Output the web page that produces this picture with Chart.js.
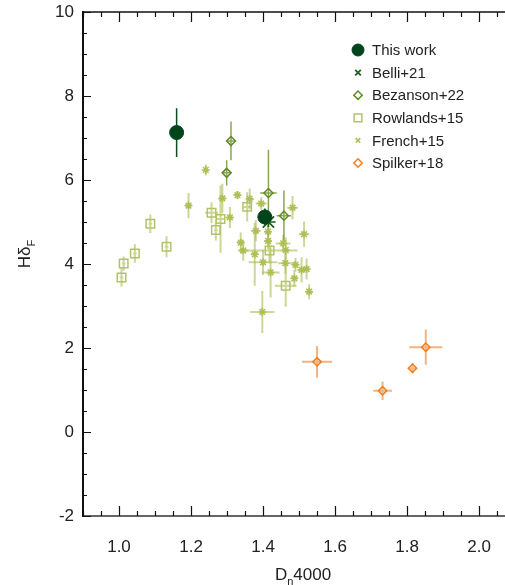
<!DOCTYPE html>
<html>
<head>
<meta charset="utf-8">
<script src="https://cdn.jsdelivr.net/npm/chart.js@4/dist/chart.umd.min.js"></script>
<style>
html, body { margin: 0; padding: 0; background: #fff; }
canvas { display: block; }
</style>
</head>
<body>
<canvas id="hd_chart" width="505" height="585"></canvas>
<script>
// tick labels
const xTickValues = [1.0, 1.2, 1.4, 1.6, 1.8, 2.0];
const yTickValues = [-2, 0, 2, 4, 6, 8, 10];

// This work
const thisWorkX    = [1.160, 1.405];
const thisWorkY    = [7.13, 5.12];
const thisWorkErrX = [0.004, 0.008];
const thisWorkErrY = [0.58, 0.20];

// Belli+21
const belliX    = [1.415];
const belliY    = [5.00];
const belliErrX = [0.02];
const belliErrY = [0.12];

// Bezanson+22
const bezansonX    = [1.311, 1.299, 1.415, 1.458];
const bezansonY    = [6.93, 6.17, 5.69, 5.15];
const bezansonErrX = [0.010, 0.010, 0.023, 0.020];
const bezansonErrY = [0.46, 0.30, 1.03, 0.60];

// Rowlands+15
const rowlandsX    = [1.007, 1.013, 1.044, 1.087, 1.132, 1.257, 1.269, 1.282, 1.356, 1.418, 1.463];
const rowlandsY    = [3.68, 4.01, 4.25, 4.96, 4.41, 5.22, 4.81, 5.07, 5.36, 4.32, 3.48];
const rowlandsErrX = [0.005, 0.005, 0.005, 0.005, 0.005, 0.018, 0.005, 0.010, 0.010, 0.078, 0.030];
const rowlandsErrY = [0.22, 0.17, 0.22, 0.22, 0.25, 0.25, 0.25, 0.80, 0.35, 0.30, 0.50];

// French+15
const frenchX    = [1.241, 1.193, 1.287, 1.329, 1.363, 1.395, 1.308, 1.482, 1.380, 1.414, 1.514, 1.338, 1.345,
                    1.414, 1.456, 1.463, 1.377, 1.398, 1.400, 1.421, 1.462, 1.490, 1.507, 1.521, 1.487, 1.528];
const frenchY    = [6.24, 5.39, 5.56, 5.64, 5.55, 5.44, 5.11, 5.34, 4.79, 4.77, 4.71, 4.51, 4.32,
                    4.55, 4.49, 4.33, 4.23, 2.86, 4.04, 3.80, 4.02, 3.98, 3.86, 3.88, 3.66, 3.34];
const frenchErrX = [0.005, 0.010, 0.010, 0.010, 0.010, 0.015, 0.010, 0.015, 0.014, 0.010, 0.015, 0.010, 0.015,
                    0.010, 0.020, 0.010, 0.010, 0.034, 0.040, 0.025, 0.020, 0.010, 0.010, 0.010, 0.010, 0.010];
const frenchErrY = [0.13, 0.30, 0.35, 0.10, 0.25, 0.15, 0.25, 0.28, 0.25, 0.20, 0.30, 0.24, 0.24,
                    0.20, 0.20, 0.30, 0.75, 0.50, 0.30, 0.60, 0.25, 0.16, 0.30, 0.25, 0.20, 0.18];

// Spilker+18
const spilkerX    = [1.550, 1.732, 1.815, 1.852];
const spilkerY    = [1.67, 0.98, 1.52, 2.02];
const spilkerErrX = [0.042, 0.026, 0.012, 0.046];
const spilkerErrY = [0.38, 0.22, 0.12, 0.42];

function toPoints(xs, ys) {
    return xs.map((x, i) => ({ x: x, y: ys[i] }));
}

const FONT = '"Liberation Sans", Arial, Helvetica, sans-serif';

// error bars under the markers
const errorBars = {
    id: 'errorBars',
    beforeDatasetsDraw(chart) {
        const ctx = chart.ctx, xs = chart.scales.x, ys = chart.scales.y;
        ctx.save();
        for (let d = chart.data.datasets.length - 1; d >= 0; d--) {
            const ds = chart.data.datasets[d];
            if (!ds.errX) continue;
            ctx.strokeStyle = ds.errColor;
            ctx.lineWidth = ds.errWidth;
            ds.data.forEach((p, i) => {
                const px = xs.getPixelForValue(p.x), py = ys.getPixelForValue(p.y);
                ctx.beginPath();
                ctx.moveTo(xs.getPixelForValue(p.x - ds.errX[i]), py);
                ctx.lineTo(xs.getPixelForValue(p.x + ds.errX[i]), py);
                ctx.moveTo(px, ys.getPixelForValue(p.y - ds.errY[i]));
                ctx.lineTo(px, ys.getPixelForValue(p.y + ds.errY[i]));
                ctx.stroke();
            });
        }
        ctx.restore();
    }
};

// inward ticks + top frame line
const frameTicks = {
    id: 'frameTicks',
    afterDraw(chart) {
        const ctx = chart.ctx, a = chart.chartArea, xs = chart.scales.x, ys = chart.scales.y;
        ctx.save();
        ctx.strokeStyle = '#111';
        ctx.lineWidth = 1.5;
        ctx.beginPath();
        ctx.moveTo(a.left, a.top);
        ctx.lineTo(a.right, a.top);
        ctx.stroke();

        ctx.lineWidth = 1.2;
        ctx.beginPath();
        for (let v = 0.9; v <= xs.max + 1e-9; v += 0.05) {
            const major = xTickValues.some(t => Math.abs(t - v) < 1e-6);
            const len = major ? 10 : 5;
            const px = Math.round(xs.getPixelForValue(v)) + 0.5;
            ctx.moveTo(px, a.bottom); ctx.lineTo(px, a.bottom - len);
            ctx.moveTo(px, a.top); ctx.lineTo(px, a.top + len);
        }
        for (let v = ys.min; v <= ys.max + 1e-9; v += 0.5) {
            const major = yTickValues.some(t => Math.abs(t - v) < 1e-6);
            const len = major ? 8 : 4;
            const py = Math.round(ys.getPixelForValue(v)) + 0.5;
            ctx.moveTo(a.left, py); ctx.lineTo(a.left + len, py);
        }
        ctx.stroke();
        ctx.restore();
    }
};

// legend inside the plot
const insideLegend = {
    id: 'insideLegend',
    afterDraw(chart) {
        const ctx = chart.ctx;
        ctx.save();
        chart.data.datasets.forEach((ds, i) => {
            const y = 50 + i * 22.6;
            ctx.fillStyle = ds.backgroundColor;
            ctx.strokeStyle = ds.borderColor;
            ctx.lineWidth = ds.borderWidth;
            Chart.helpers.drawPoint(ctx, {
                pointStyle: ds.legendStyle || ds.pointStyle,
                radius: ds.legendRadius,
                borderWidth: ds.borderWidth,
                rotation: 0
            }, 358, y);
            ctx.fillStyle = '#222';
            ctx.font = '15px ' + FONT;
            ctx.textAlign = 'left';
            ctx.textBaseline = 'middle';
            ctx.fillText(ds.label, 372, y + 1);
        });
        ctx.restore();
    }
};

// axis titles with subscripts
const axisTitles = {
    id: 'axisTitles',
    afterDraw(chart) {
        const ctx = chart.ctx;
        ctx.save();
        ctx.fillStyle = '#222';
        ctx.textBaseline = 'alphabetic';
        ctx.textAlign = 'left';

        // D_n4000
        const big = '17px ' + FONT, small = '11px ' + FONT;
        ctx.font = big;
        const wD = ctx.measureText('D').width, w4 = ctx.measureText('4000').width;
        ctx.font = small;
        const wn = ctx.measureText('n').width;
        let x = 303 - (wD + wn + w4) / 2;
        const base = 580;
        ctx.font = big; ctx.fillText('D', x, base); x += wD;
        ctx.font = small; ctx.fillText('n', x, base + 5); x += wn;
        ctx.font = big; ctx.fillText('4000', x, base);

        // Hδ_F
        ctx.translate(30, 254);
        ctx.rotate(-Math.PI / 2);
        ctx.font = big;
        const wH = ctx.measureText('Hδ').width;
        ctx.font = small;
        const wF = ctx.measureText('F').width;
        let t = -(wH + wF) / 2;
        ctx.font = big; ctx.fillText('Hδ', t, 0); t += wH;
        ctx.font = small; ctx.fillText('F', t, 5);
        ctx.restore();
    }
};

const ctx = document.getElementById('hd_chart');
window.hd_chart = new Chart(ctx, {
    type: 'scatter',
    data: {
        datasets: [
            {
                label: 'This work',
                data: toPoints(thisWorkX, thisWorkY),
                errX: thisWorkErrX, errY: thisWorkErrY,
                errColor: '#0b4d1c', errWidth: 1.5,
                pointStyle: 'circle', pointRadius: 7, legendRadius: 6,
                backgroundColor: '#00441b', borderColor: '#00441b', borderWidth: 1
            },
            {
                label: 'Belli+21',
                data: toPoints(belliX, belliY),
                errX: belliErrX, errY: belliErrY,
                errColor: '#1d5e22', errWidth: 1.5,
                pointStyle: 'crossRot', pointRadius: 8, legendRadius: 4,
                backgroundColor: '#1d5e22', borderColor: '#1d5e22', borderWidth: 1.8
            },
            {
                label: 'Bezanson+22',
                data: toPoints(bezansonX, bezansonY),
                errX: bezansonErrX, errY: bezansonErrY,
                errColor: 'rgba(98,135,30,0.75)', errWidth: 1.5,
                pointStyle: 'rectRot', pointRadius: 4.5, legendRadius: 4.2,
                backgroundColor: 'rgba(0,0,0,0)', borderColor: '#5f8a1f', borderWidth: 1.5
            },
            {
                label: 'Rowlands+15',
                data: toPoints(rowlandsX, rowlandsY),
                errX: rowlandsErrX, errY: rowlandsErrY,
                errColor: 'rgba(178,192,95,0.65)', errWidth: 2,
                pointStyle: 'rect', pointRadius: 6, legendRadius: 5.5,
                backgroundColor: 'rgba(0,0,0,0)', borderColor: '#b4c266', borderWidth: 1.5
            },
            {
                label: 'French+15',
                data: toPoints(frenchX, frenchY),
                errX: frenchErrX, errY: frenchErrY,
                errColor: 'rgba(172,188,85,0.6)', errWidth: 2,
                pointStyle: 'star', pointRadius: 4, legendStyle: 'crossRot', legendRadius: 3.2,
                backgroundColor: 'rgba(0,0,0,0)', borderColor: '#aebf55', borderWidth: 1.5
            },
            {
                label: 'Spilker+18',
                data: toPoints(spilkerX, spilkerY),
                errX: spilkerErrX, errY: spilkerErrY,
                errColor: 'rgba(240,128,40,0.6)', errWidth: 2,
                pointStyle: 'rectRot', pointRadius: 4.2, legendRadius: 4.2,
                backgroundColor: 'rgba(0,0,0,0)', borderColor: '#f07f22', borderWidth: 1.5
            }
        ]
    },
    options: {
        responsive: false,
        devicePixelRatio: 1,
        animation: false,
        layout: { autoPadding: false, padding: { top: 12, right: 0, bottom: 0, left: 0 } },
        plugins: {
            legend: { display: false },
            tooltip: { enabled: false }
        },
        scales: {
            x: {
                type: 'linear',
                min: 0.9,
                max: 2.072,
                grid: { drawOnChartArea: false, drawTicks: false },
                border: { display: true, color: '#666', width: 2 },
                ticks: {
                    padding: 21,
                    color: '#222',
                    font: { family: FONT, size: 17 },
                    callback: v => v.toFixed(1)
                },
                afterBuildTicks: s => { s.ticks = xTickValues.map(v => ({ value: v })); },
                afterFit: s => { s.height = 69; s.paddingLeft = 0; s.paddingRight = 0; }
            },
            y: {
                type: 'linear',
                min: -2,
                max: 10,
                grid: { drawOnChartArea: false, drawTicks: false },
                border: { display: true, color: '#111', width: 2 },
                ticks: {
                    padding: 9,
                    color: '#222',
                    font: { family: FONT, size: 17 },
                    callback: v => String(v)
                },
                afterBuildTicks: s => { s.ticks = yTickValues.map(v => ({ value: v })); },
                afterFit: s => { s.width = 83; s.paddingTop = 0; s.paddingBottom = 0; }
            }
        }
    },
    plugins: [errorBars, frameTicks, insideLegend, axisTitles]
});
</script>
</body>
</html>
